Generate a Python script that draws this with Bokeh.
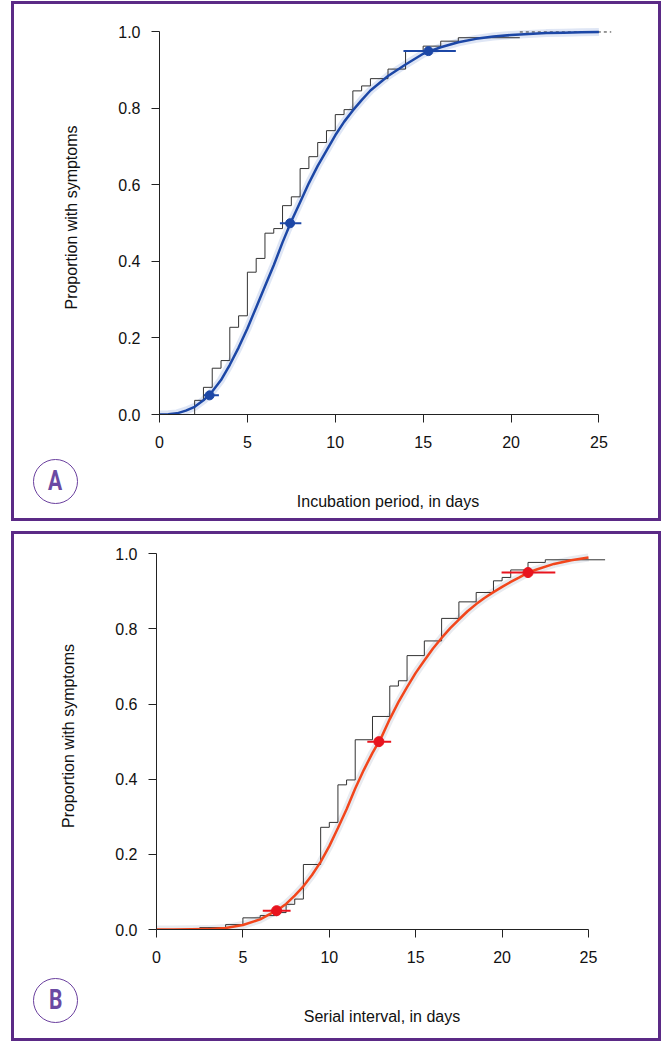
from bokeh.plotting import figure
from bokeh.models import Range1d, FixedTicker, PrintfTickFormatter, Div
from bokeh.embed import file_html
from bokeh.resources import INLINE

# ---------------- Panel A: incubation period ----------------
a_step_days = [0, 2.0, 2.5, 3.0, 3.5, 4.0, 4.5, 5.0, 5.5, 6.0, 6.5, 7.0, 7.5, 8.0, 8.5,
               9.0, 9.5, 10.0, 10.5, 11.0, 11.5, 12.0, 13.0, 14.0, 15.0, 16.0, 17.0, 20.5]
a_step_prop = [0, 0.037, 0.071, 0.121, 0.141, 0.228, 0.258, 0.372, 0.408, 0.474, 0.486,
               0.546, 0.569, 0.643, 0.674, 0.711, 0.742, 0.784, 0.797, 0.846, 0.859,
               0.878, 0.903, 0.950, 0.963, 0.976, 0.985, 0.985]
a_tail_days = [20.5, 25.7]
a_tail_prop = [1.0, 1.0]

a_fit_days = [0, 0.5, 1, 1.5, 2, 2.5, 3, 3.5, 4, 4.5, 5, 5.5, 6, 6.5, 7, 7.5, 8, 8.5, 9,
              9.5, 10, 10.5, 11, 11.5, 12, 13, 14, 15, 16, 17, 18, 19, 20, 21, 22, 23, 24, 25]
a_fit_prop = [0, 0.0005, 0.003, 0.01, 0.02, 0.037, 0.06, 0.09, 0.13, 0.175, 0.225, 0.28,
              0.335, 0.39, 0.45, 0.505, 0.555, 0.605, 0.65, 0.69, 0.73, 0.765, 0.795,
              0.822, 0.847, 0.885, 0.915, 0.943, 0.96, 0.973, 0.982, 0.988, 0.992, 0.995,
              0.997, 0.998, 0.999, 1.0]

a_q_days = [2.85, 7.43, 15.3]
a_q_prop = [0.05, 0.5, 0.95]
a_q_lo = [2.52, 6.85, 13.88]
a_q_hi = [3.38, 8.07, 16.86]

# ---------------- Panel B: serial interval ----------------
b_step_days = [0, 2.5, 4.0, 5.0, 6.0, 7.0, 7.5, 8.0, 8.5, 9.5, 10.0, 10.5, 11.0, 11.5,
               12.5, 13.5, 14.0, 14.5, 15.5, 16.5, 17.5, 18.5, 19.5, 20.0, 20.5, 21.5,
               22.5, 25.96]
b_step_prop = [0, 0.005, 0.013, 0.031, 0.037, 0.045, 0.067, 0.081, 0.173, 0.272, 0.285,
               0.385, 0.398, 0.505, 0.567, 0.648, 0.662, 0.729, 0.768, 0.828, 0.872,
               0.897, 0.928, 0.937, 0.957, 0.977, 0.984, 0.984]

b_fit_days = [0, 1, 2, 3, 4, 5, 6, 7, 7.5, 8, 8.5, 9, 9.5, 10, 10.5, 11, 11.5, 12, 12.5,
              13, 13.5, 14, 14.5, 15, 15.5, 16, 16.5, 17, 17.5, 18, 18.5, 19, 19.5, 20,
              20.5, 21, 21.5, 22, 23, 24, 25]
b_fit_prop = [0, 0, 0.0005, 0.001, 0.004, 0.012, 0.027, 0.052, 0.068, 0.09, 0.115, 0.145,
              0.18, 0.222, 0.27, 0.32, 0.375, 0.425, 0.47, 0.51, 0.56, 0.605, 0.645,
              0.683, 0.716, 0.748, 0.776, 0.802, 0.825, 0.847, 0.866, 0.883, 0.898,
              0.912, 0.925, 0.937, 0.95, 0.958, 0.973, 0.983, 0.99]

b_q_days = [6.95, 12.87, 21.5]
b_q_prop = [0.05, 0.5, 0.95]
b_q_lo = [6.15, 12.2, 19.97]
b_q_hi = [7.76, 13.58, 23.08]

x_ticks = [0, 5, 10, 15, 20, 25]
y_ticks = [0, 0.2, 0.4, 0.6, 0.8, 1.0]

PURPLE = "#5b2a86"
FONT = "Liberation Sans"


def make_panel(height, xmax, mb_left, mb_right, mb_top, mb_bottom, xlabel, margin_top):
    p = figure(width=650, height=height,
               x_range=Range1d(0, xmax), y_range=Range1d(0, 1.03),
               output_backend="svg", toolbar_location=None,
               min_border_left=mb_left, min_border_right=mb_right,
               min_border_top=mb_top, min_border_bottom=mb_bottom,
               background_fill_color=None, border_fill_color=None)
    p.styles = {"outline": "3px solid " + PURPLE, "outline-offset": "-3px",
                "background-color": "white",
                "margin-top": margin_top, "margin-left": "11px"}
    p.outline_line_color = None
    p.grid.grid_line_color = None
    for ax in (p.xaxis[0], p.yaxis[0]):
        ax.axis_line_color = "#222222"
        ax.major_tick_line_color = "#222222"
        ax.minor_tick_line_color = None
        ax.major_tick_out = 8
        ax.major_tick_in = 0
        ax.major_label_text_font = FONT
        ax.major_label_text_font_size = "16px"
        ax.major_label_text_color = "#111111"
        ax.axis_label_text_font = FONT
        ax.axis_label_text_font_size = "16px"
        ax.axis_label_text_font_style = "normal"
        ax.axis_label_text_color = "#111111"
    p.xaxis[0].major_label_standoff = 13
    p.yaxis[0].major_label_standoff = 11
    p.xaxis[0].bounds = (0, 25)
    p.yaxis[0].bounds = (0, 1)
    p.xaxis[0].ticker = FixedTicker(ticks=x_ticks)
    p.yaxis[0].ticker = FixedTicker(ticks=y_ticks)
    p.yaxis[0].formatter = PrintfTickFormatter(format="%.1f")
    p.yaxis[0].major_label_orientation = "horizontal"
    p.xaxis[0].axis_label = xlabel
    p.yaxis[0].axis_label = "Proportion with symptoms"
    p.xaxis[0].axis_label_standoff = 42
    p.yaxis[0].axis_label_standoff = 35
    return p


def letter_badge(letter, left, top):
    html = ('<div style="box-sizing:border-box;width:45px;height:45px;'
            'border:1.5px solid #6a3f9e;border-radius:50%;display:flex;'
            'align-items:center;justify-content:center;background:white;'
            'font-family:Roboto;font-weight:bold;font-size:27px;color:#6a4aa3;">'
            '<span style="display:inline-block;transform:scaleX(0.78);">'
            + letter + '</span></div>')
    return Div(text=html, width=45, height=45,
               styles={"position": "absolute", "left": left, "top": top,
                       "margin": "0", "padding": "0"})


pA = make_panel(520, 26.0, 148, 45, 19, 107, "Incubation period, in days", "1px")
pA.line(a_fit_days, a_fit_prop, line_color="#c9d5ee", line_width=8, line_alpha=0.6)
pA.step(a_step_days, a_step_prop, mode="after", line_color="#333333", line_width=1)
pA.line(a_tail_days, a_tail_prop, line_color="#333333", line_width=1, line_dash="3 3")
pA.line(a_fit_days, a_fit_prop, line_color="#1c47a6", line_width=2.5)
pA.segment(x0=a_q_lo, y0=a_q_prop, x1=a_q_hi, y1=a_q_prop, line_color="#1c47a6", line_width=2)
pA.scatter(a_q_days, a_q_prop, size=9, fill_color="#1c47a6", line_color="#1c47a6")

pB = make_panel(510, 26.1, 145, 54, 11, 112, "Serial interval, in days", "10px")
pB.line(b_fit_days, b_fit_prop, line_color="#e2e6ec", line_width=8, line_alpha=0.8)
pB.step(b_step_days, b_step_prop, mode="after", line_color="#333333", line_width=1)
pB.line(b_fit_days, b_fit_prop, line_color="#f2461c", line_width=2.5)
pB.segment(x0=b_q_lo, y0=b_q_prop, x1=b_q_hi, y1=b_q_prop, line_color="#e8141e", line_width=2)
pB.scatter(b_q_days, b_q_prop, size=10, fill_color="#e8141e", line_color="#e8141e")

badgeA = letter_badge("A", "33px", "459px")
badgeB = letter_badge("B", "33px", "978px")

open("out.html", "w").write(file_html([pA, pB, badgeA, badgeB], INLINE))
